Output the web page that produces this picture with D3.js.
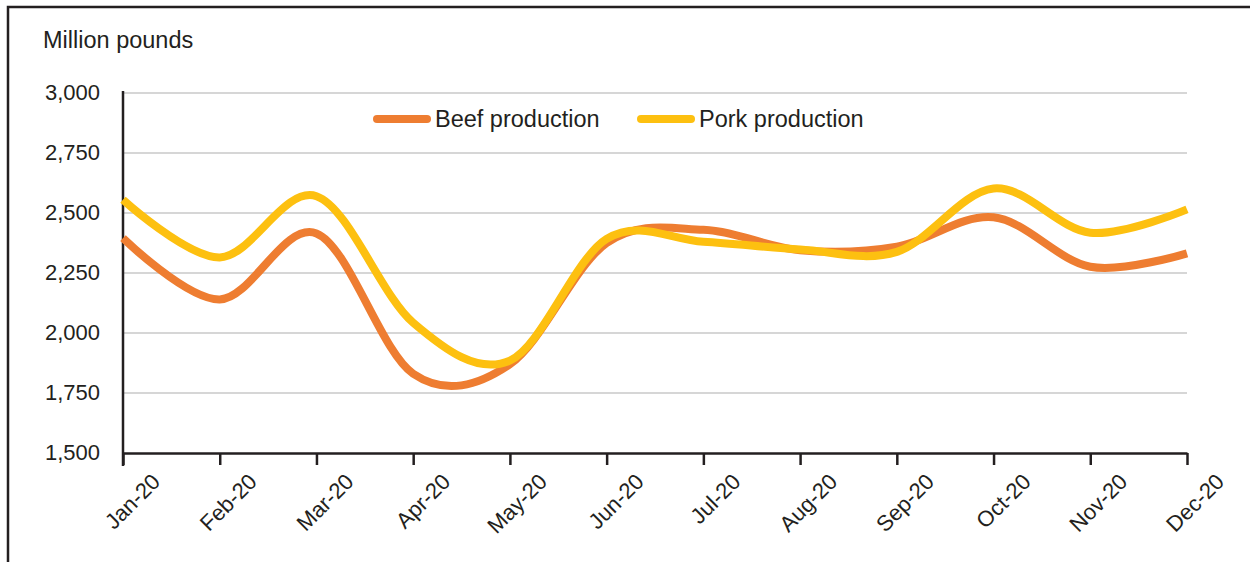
<!DOCTYPE html>
<html>
<head>
<meta charset="utf-8">
<script src="https://cdn.jsdelivr.net/npm/d3@7"></script>
<style>
  body { margin: 0; background: #fff; }
  svg { display: block; }
  text { font-family: "Liberation Sans", Arial, sans-serif; fill: #231f20; }
</style>
</head>
<body>
<svg id="chart" width="1250" height="562"></svg>
<script>
const months = ["Jan-20","Feb-20","Mar-20","Apr-20","May-20","Jun-20","Jul-20","Aug-20","Sep-20","Oct-20","Nov-20","Dec-20"];
const beefProduction = [2395, 2140, 2415, 1830, 1870, 2375, 2430, 2345, 2360, 2482, 2276, 2332];
const porkProduction = [2555, 2315, 2570, 2043, 1885, 2392, 2380, 2348, 2338, 2602, 2418, 2515];
const yTicks = [1500, 1750, 2000, 2250, 2500, 2750, 3000];
const seriesNames = ["Beef production", "Pork production"];
const seriesColors = ["#EE7D31", "#FDC010"];

const svg = d3.select("#chart");
const ink = "#231f20";

// frame
svg.append("path").attr("d", "M8,562 V7 H1250").attr("fill", "none")
  .attr("stroke", ink).attr("stroke-width", 2.5);

const x = d3.scalePoint().domain(months).range([123, 1187]);
const y = d3.scaleLinear().domain([1500, 3000]).range([453, 93]);

// gridlines
svg.append("g").selectAll("line").data(yTicks.filter(d => d > 1500)).join("line")
  .attr("x1", 123).attr("x2", 1187)
  .attr("y1", d => y(d)).attr("y2", d => y(d))
  .attr("stroke", "#c8c8c8").attr("stroke-width", 1.3);

// y axis
const yAxis = d3.axisLeft(y).tickValues(yTicks).tickSize(0).tickPadding(23)
  .tickFormat(d3.format(","));
const gy = svg.append("g").attr("transform", "translate(123,0)").call(yAxis);
gy.select(".domain").remove();
gy.selectAll("text").attr("font-size", 22).attr("font-family", "Liberation Sans, Arial, sans-serif")
  .attr("fill", ink).attr("dy", "0.28em");
svg.append("line").attr("x1", 123).attr("x2", 123).attr("y1", 91).attr("y2", 466)
  .attr("stroke", ink).attr("stroke-width", 2.5);

// x axis
const xAxis = d3.axisBottom(x).tickSize(12).tickSizeOuter(0);
const gx = svg.append("g").attr("transform", "translate(0,453)").call(xAxis);
gx.select(".domain").attr("stroke", ink).attr("stroke-width", 2.5);
gx.selectAll(".tick line").attr("stroke", ink).attr("stroke-width", 2.5);
gx.selectAll("text").attr("font-size", 22).attr("font-family", "Liberation Sans, Arial, sans-serif")
  .attr("fill", ink).attr("text-anchor", "end").attr("x", 0).attr("y", 0).attr("dy", 0)
  .attr("transform", "translate(38,30) rotate(-45)");

// lines
const line = d3.line().x((d, i) => x(months[i])).y(d => y(d)).curve(d3.curveCardinal.tension(0));
[beefProduction, porkProduction].forEach((vals, k) => {
  svg.append("path").datum(vals).attr("d", line).attr("fill", "none")
    .attr("stroke", seriesColors[k]).attr("stroke-width", 8)
    .attr("stroke-linecap", "butt").attr("stroke-linejoin", "round");
});

// unit label
svg.append("text").attr("x", 43).attr("y", 48).attr("font-size", 23.5).text("Million pounds");

// legend
const legendX = [373, 637];
seriesNames.forEach((name, k) => {
  svg.append("line").attr("x1", legendX[k] + 4).attr("x2", legendX[k] + 54)
    .attr("y1", 119).attr("y2", 119).attr("stroke", seriesColors[k])
    .attr("stroke-width", 8).attr("stroke-linecap", "round");
  svg.append("text").attr("x", legendX[k] + 62).attr("y", 127).attr("font-size", 23.5).text(name);
});
</script>
</body>
</html>
